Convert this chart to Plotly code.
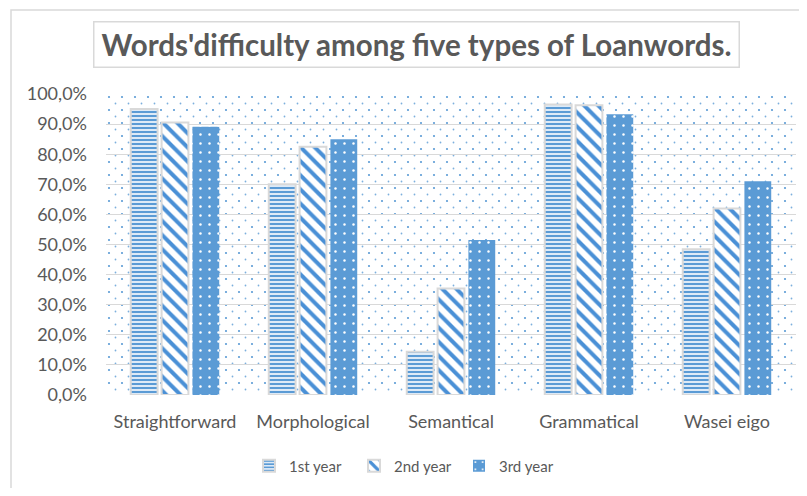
import base64
import plotly.graph_objects as go

categories = ["Straightforward", "Morphological", "Semantical", "Grammatical", "Wasei eigo"]
series_names = ["1st year", "2nd year", "3rd year"]
year1 = [95.0, 70.0, 14.4, 96.5, 48.4]
year2 = [90.5, 82.5, 35.4, 96.3, 62.0]
year3 = [89.1, 85.0, 51.5, 93.3, 71.0]
tick_vals = [0, 10, 20, 30, 40, 50, 60, 70, 80, 90, 100]
tick_text = ["0,0%", "10,0%", "20,0%", "30,0%", "40,0%", "50,0%", "60,0%", "70,0%", "80,0%", "90,0%", "100,0%"]
title_text = "Words'difficulty among five types of Loanwords."

BLUE = "#5B9BD5"
DEEP = "#4A90D6"
GRAY_TXT = "#595959"
GRID = "#D9D9D9"
FONT = "Lato"

# page has an 8px body margin; target plot rectangle in page pixels
OFF = 8
PL, PR, PT, PB = 106, 796, 94, 395
W, H = 791, 480
ml, mt = PL - OFF, PT - OFF
mr = OFF + W - PR
mb = OFF + H - PB
pw, ph = PR - PL, PB - PT


def px(x):
    return (x - PL) / pw


def py(y):
    return (PB - y) / ph


fig = go.Figure()
fig.add_trace(go.Bar(
    name=series_names[0], x=categories, y=year1,
    marker=dict(color="white", line=dict(color=GRID, width=2),
                pattern=dict(shape="-", fgcolor=BLUE, bgcolor="#DDEAF7", size=4, solidity=0.5,
                             fgopacity=1, fillmode="replace")),
))
fig.add_trace(go.Bar(
    name=series_names[1], x=categories, y=year2,
    marker=dict(color="white", line=dict(color=GRID, width=2),
                pattern=dict(shape="\\", fgcolor=DEEP, bgcolor="white", size=10, solidity=0.4,
                             fgopacity=1, fillmode="replace")),
))
fig.add_trace(go.Bar(
    name=series_names[2], x=categories, y=year3,
    marker=dict(color=BLUE, line=dict(color=BLUE, width=0),
                pattern=dict(shape=".", fgcolor="white", bgcolor=BLUE, size=9, solidity=0.06,
                             fgopacity=1, fillmode="replace")),
))

# dotted background for plot area (SVG pattern)
svg = (
    f'<svg xmlns="http://www.w3.org/2000/svg" width="{pw}" height="{ph}" viewBox="0 0 {pw} {ph}" preserveAspectRatio="none">'
    '<defs><pattern id="p" width="13" height="13" patternUnits="userSpaceOnUse">'
    f'<circle cx="3" cy="3" r="1.1" fill="{BLUE}"/>'
    f'<circle cx="9.5" cy="9.5" r="0.9" fill="{BLUE}" fill-opacity="0.8"/>'
    '</pattern></defs>'
    f'<rect x="0" y="0" width="{pw}" height="{ph}" fill="url(#p)"/></svg>'
)
src = "data:image/svg+xml;base64," + base64.b64encode(svg.encode()).decode()

fig.update_layout(
    width=W, height=H,
    margin=dict(l=ml, r=mr, t=mt, b=mb),
    paper_bgcolor="white", plot_bgcolor="white",
    barmode="group", bargap=0.33, bargroupgap=0.13,
    font=dict(family=FONT, color=GRAY_TXT, size=18),
    showlegend=True,
    legend=dict(orientation="h", x=px(249), xanchor="left", y=py(466), yanchor="middle",
                font=dict(size=15, color=GRAY_TXT), itemwidth=30, entrywidth=60,
                traceorder="normal"),
    images=[dict(source=src, xref="x domain", yref="y domain", x=0, y=1, sizex=1, sizey=1,
                 sizing="stretch", layer="below", xanchor="left", yanchor="top")],
    xaxis=dict(showgrid=False, showline=False, zeroline=False, ticks="", ticklabelstandoff=14,
               tickfont=dict(size=18, color=GRAY_TXT, family=FONT)),
    yaxis=dict(range=[0, 100], tickvals=tick_vals, ticktext=tick_text, showgrid=True,
               gridcolor=GRID, gridwidth=1, zeroline=False, showline=False, ticks="",
               ticklabelstandoff=18, tickfont=dict(size=18, color=GRAY_TXT, family=FONT)),
    shapes=[dict(type="rect", xref="paper", yref="paper",
                 x0=px(11), x1=px(830), y0=py(520), y1=py(10),
                 line=dict(color=GRID, width=1.5), fillcolor="rgba(0,0,0,0)", layer="below")],
    annotations=[dict(text="<b>" + title_text + "</b>", xref="paper", yref="paper",
                      x=px(416), y=py(45), xanchor="center", yanchor="middle",
                      showarrow=False, width=644, height=44, borderpad=0,
                      bordercolor=GRID, borderwidth=1.5, bgcolor="white",
                      font=dict(size=29.5, color=GRAY_TXT, family=FONT))],
)

fig.write_html("out.html")
